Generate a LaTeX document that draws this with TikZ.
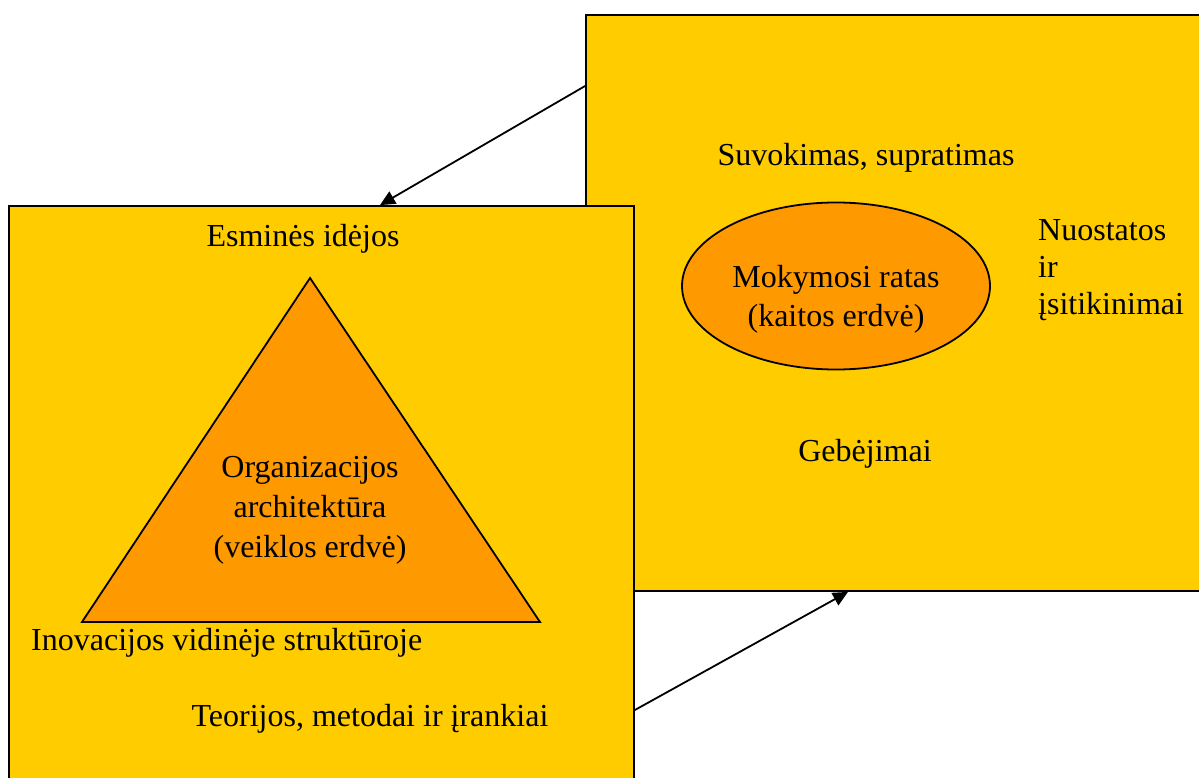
\documentclass[tikz,border=0pt]{standalone}
\usepackage{fontspec}
\setmainfont{Liberation Serif}
\usetikzlibrary{shapes.geometric,arrows.meta}
\definecolor{boxyellow}{HTML}{FFCC00}
\definecolor{shapeorange}{HTML}{FF9900}
\tikzset{
  panel/.style={draw=black,line width=1.8pt,fill=boxyellow,rectangle,inner sep=0pt},
  lbl/.style={inner sep=0pt,font=\fontsize{32}{39}\selectfont,text=black},
  conn/.style={line width=1.8pt,-{Triangle[length=15pt,width=14pt]}},
}
\begin{document}
\begin{tikzpicture}[x=1pt,y=-1pt]
\useasboundingbox (0,0) rectangle (1199,778);
\fill[white] (0,0) rectangle (1199,778);
% right panel
\node[panel,minimum width=619pt,minimum height=576pt] (rbox) at (895.5,303) {};
\node[draw=black,line width=1.8pt,fill=shapeorange,ellipse,minimum width=308pt,minimum height=167pt,inner sep=0pt] (cycle) at (836,286) {};
\node[lbl,align=center] (mok) at (836,299) {Mokymosi ratas\\(kaitos erdvė)};
\node[lbl,anchor=base] (suv) at (866,166) {Suvokimas, supratimas};
\node[lbl,anchor=base] (geb) at (865,461) {Gebėjimai};
\node[lbl,align=left,anchor=west,font=\fontsize{32}{37}\selectfont] (nuo) at (1038,270) {Nuostatos\\ir\\įsitikinimai};
% left panel
\node[panel,minimum width=625pt,minimum height=584pt] (lbox) at (321.5,498) {};
\draw[line width=1.8pt,fill=shapeorange] (310,278) coordinate (apex) -- (82,622) coordinate (bl) -- (540,622) coordinate (br) -- cycle;
\node[lbl,align=center,font=\fontsize{32}{40}\selectfont] (org) at (310,510) {Organizacijos\\architektūra\\(veiklos erdvė)};
\node[lbl,anchor=base] (esm) at (303,247) {Esminės idėjos};
\node[lbl,anchor=base west] (ino) at (31,650) {Inovacijos vidinėje struktūroje};
\node[lbl,anchor=base] (teo) at (370,726) {Teorijos, metodai ir įrankiai};
% connectors
\draw[conn] (rbox.west |- 0,86) -- (lbox.north -| 380,0);
\draw[conn] (lbox.east |- 0,710) -- (rbox.south -| 848,0);
\end{tikzpicture}
\end{document}
